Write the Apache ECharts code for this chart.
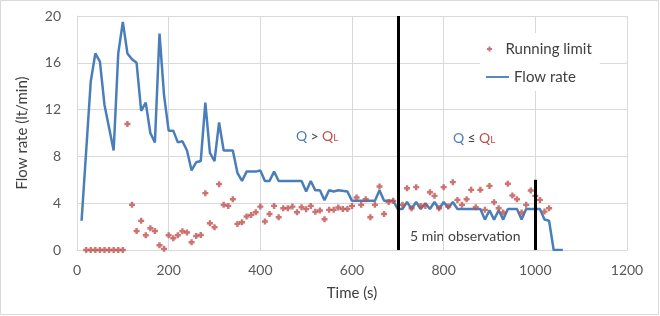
<!DOCTYPE html>
<html>
<head>
<meta charset="utf-8">
<script src="https://cdn.jsdelivr.net/npm/echarts@6/dist/echarts.min.js"></script>
<style>
  html, body { margin: 0; padding: 0; background: #fff; }
  #chart { width: 660px; height: 316px; }
</style>
</head>
<body>
<div id="chart"></div>
<script>
// flow rate line (time s, lt/min)
const flowTime = [10, 30, 40, 50, 60, 80, 90, 100, 110, 120, 130, 140, 150, 160, 170, 180, 190, 200, 210, 220,
  230, 240, 250, 260, 270, 280, 290, 300, 310, 320, 330, 340, 350, 360, 370, 380, 390, 400, 410, 420,
  430, 440, 490, 500, 510, 520, 530, 540, 550, 560, 570, 590, 600, 650, 660, 670, 690, 700, 710, 720,
  730, 740, 750, 760, 770, 780, 790, 800, 810, 820, 830, 880, 890, 900, 910, 920, 930, 940, 960, 970,
  980, 1010, 1020, 1030, 1040, 1060];
const flowRate = [2.5, 14.4, 16.8, 16.1, 12.4, 8.5, 16.8, 19.5, 16.8, 16.3, 16.0, 11.9, 12.6, 10.0, 9.2, 18.5, 13.2, 10.2, 10.2, 9.2,
  9.3, 8.5, 6.8, 7.5, 7.6, 12.6, 8.3, 7.6, 10.9, 8.5, 8.5, 8.5, 6.6, 5.9, 6.7, 6.7, 6.7, 6.8, 5.9, 5.9,
  6.7, 5.9, 5.9, 5.0, 5.9, 5.1, 5.1, 4.25, 5.1, 5.0, 5.1, 5.0, 4.2, 4.2, 5.1, 4.2, 4.2, 3.5, 3.5, 4.1,
  3.5, 4.1, 3.5, 4.0, 3.5, 4.1, 3.5, 4.1, 3.6, 4.1, 3.5, 3.5, 2.6, 3.4, 2.6, 3.4, 2.6, 3.5, 3.5, 2.6,
  3.5, 3.5, 2.6, 2.5, 0, 0];

// running limit points
const limitTime = [20, 30, 40, 50, 60, 70, 80, 90, 100, 110, 120, 130, 140, 150, 160, 170, 180, 190, 200, 210,
  220, 230, 240, 250, 260, 270, 280, 290, 300, 310, 320, 330, 340, 350, 360, 370, 380, 390, 400, 410,
  420, 430, 440, 450, 460, 470, 480, 490, 500, 510, 520, 530, 540, 550, 560, 570, 580, 590, 600, 610,
  620, 630, 640, 650, 660, 670, 680, 690, 710, 720, 730, 740, 750, 760, 770, 780, 790, 800, 810, 820,
  830, 840, 850, 860, 870, 880, 890, 900, 910, 920, 930, 940, 950, 960, 970, 980, 990, 1000, 1010, 1020, 1030];
const limitRate = [0, 0, 0, 0, 0, 0, 0, 0, 0, 10.77, 3.86, 1.63, 2.49, 1.26, 1.86, 1.63, 0.4, 0.1, 1.26, 1.0,
  1.26, 1.6, 1.49, 0.66, 1.2, 1.28, 4.86, 2.29, 1.94, 5.63, 3.86, 3.77, 4.34, 2.23, 2.37, 2.86, 3.0, 3.23, 3.71, 2.43,
  3.08, 3.77, 2.8, 3.57, 3.57, 3.71, 3.23, 3.66, 3.49, 3.77, 3.26, 3.37, 2.63, 3.43, 3.43, 3.63, 3.51, 3.51, 3.77, 4.49,
  3.86, 4.34, 2.8, 3.86, 5.43, 3.08, 4.1, 4.2, 3.86, 5.28, 3.57, 5.37, 3.77, 3.77, 4.94, 4.63, 3.57, 5.37, 3.71, 5.8,
  4.28, 3.86, 4.34, 5.14, 3.66, 5.14, 3.43, 5.48, 4.09, 3.57, 3.2, 5.66, 4.66, 4.34, 3.2, 3.86, 5.08, 4.63, 4.28, 3.28, 3.57];

// vertical marker lines [time, top value]
const markerLines = [[700, 20], [1000, 6]];

const xTicks = { min: 0, max: 1200, interval: 200 };
const yTicks = { min: 0, max: 20, interval: 4 };

const font = 'Lato, "Open Sans", sans-serif';
const blue = '#4a7ebb';
const red = '#c0504d';

const chart = echarts.init(document.getElementById('chart'));

chart.setOption({
  animation: false,
  backgroundColor: '#fff',
  textStyle: { fontFamily: font },
  grid: { left: 77, right: 33, top: 16, bottom: 66, containLabel: false },
  xAxis: {
    type: 'value',
    min: xTicks.min, max: xTicks.max, interval: xTicks.interval,
    name: 'Time (s)',
    nameLocation: 'middle',
    nameGap: 36,
    nameTextStyle: { fontSize: 15, color: '#404040', fontFamily: font },
    axisLine: { show: true, lineStyle: { color: '#d9d9d9' } },
    axisTick: { show: false },
    axisLabel: { fontSize: 14, color: '#595959', margin: 13, fontFamily: font, formatter: v => String(v) },
    splitLine: { show: true, lineStyle: { color: '#d9d9d9' } }
  },
  yAxis: {
    type: 'value',
    min: yTicks.min, max: yTicks.max, interval: yTicks.interval,
    name: 'Flow rate (lt/min)',
    nameLocation: 'middle',
    nameGap: 47,
    nameTextStyle: { fontSize: 15, color: '#404040', fontFamily: font },
    axisLine: { show: true, lineStyle: { color: '#d9d9d9' } },
    axisTick: { show: false },
    axisLabel: { fontSize: 14, color: '#595959', margin: 16, fontFamily: font, formatter: v => String(v) },
    splitLine: { show: true, lineStyle: { color: '#d9d9d9' } }
  },
  legend: [
    {
      data: [{ name: 'Running limit' }],
      orient: 'vertical',
      left: 481, top: 33,
      padding: [8, 8, 9, 6],
      backgroundColor: '#fff',
      itemWidth: 22, itemHeight: 5,
      symbolKeepAspect: true,
      textStyle: { fontSize: 15, color: '#404040', lineHeight: 16, fontFamily: font }
    },
    {
      data: [{ name: 'Flow rate', icon: 'path://M0,0H25V2H0Z' }],
      orient: 'vertical',
      left: 480, top: 63,
      padding: [6, 8, 6, 6],
      backgroundColor: '#fff',
      itemWidth: 23, itemHeight: 14,
      textStyle: { fontSize: 15, color: '#404040', lineHeight: 16, fontFamily: font }
    }
  ],
  series: [
    {
      name: 'Running limit',
      type: 'scatter',
      symbol: 'path://M1.8,0H4.2V1.8H6V4.2H4.2V6H1.8V4.2H0V1.8H1.8Z',
      symbolSize: 6,
      itemStyle: { color: red },
      data: limitTime.map((t, i) => [t, limitRate[i]]),
      z: 3
    },
    {
      name: 'Flow rate',
      type: 'line',
      symbol: 'none',
      lineStyle: { color: blue, width: 2.5 },
      itemStyle: { color: blue },
      data: flowTime.map((t, i) => [t, flowRate[i]]),
      z: 2
    },
    {
      name: 'markers',
      type: 'line',
      data: [],
      markLine: {
        silent: true,
        symbol: 'none',
        label: { show: false },
        lineStyle: { color: '#000', width: 3, type: 'solid' },
        data: markerLines.map(m => [{ coord: [m[0], 0] }, { coord: [m[0], m[1]] }])
      },
      z: 4
    }
  ],
  graphic: [
    {
      type: 'rect',
      shape: { x: 0.5, y: 0.5, width: 658, height: 314 },
      style: { fill: 'none', stroke: '#d9d9d9', lineWidth: 1 },
      silent: true
    },
    {
      type: 'text', left: 296, top: 129,
      style: {
        text: '{b|Q} {g|>} {r|Q}{s|L}',
        rich: {
          b: { fill: blue, fontSize: 14, fontFamily: font },
          g: { fill: '#404040', fontSize: 14, fontFamily: font },
          r: { fill: red, fontSize: 14, fontFamily: font },
          s: { fill: red, fontSize: 10, fontFamily: font, verticalAlign: 'bottom' }
        }
      }
    },
    {
      type: 'text', left: 453, top: 131,
      style: {
        text: '{b|Q} {g|≤} {r|Q}{s|L}',
        rich: {
          b: { fill: blue, fontSize: 14, fontFamily: font },
          g: { fill: '#404040', fontSize: 14, fontFamily: font },
          r: { fill: red, fontSize: 14, fontFamily: font },
          s: { fill: red, fontSize: 10, fontFamily: font, verticalAlign: 'bottom' }
        }
      }
    },
    {
      type: 'text', left: 410, top: 229,
      style: { text: '5 min observation', fill: '#404040', fontSize: 14, fontFamily: font }
    }
  ]
});
</script>
</body>
</html>
